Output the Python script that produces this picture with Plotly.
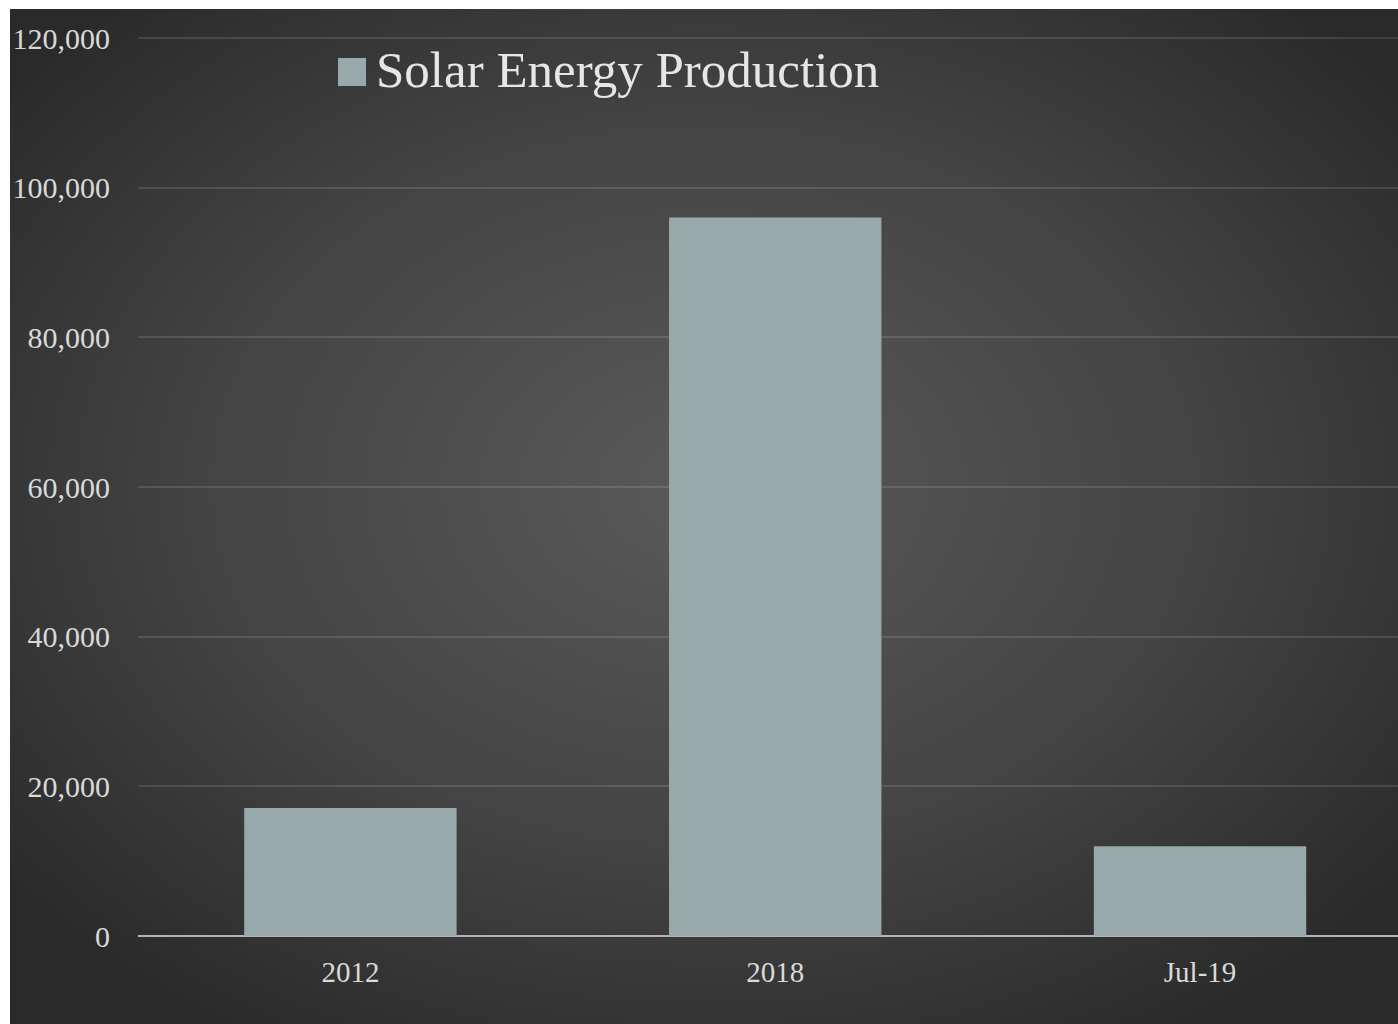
import base64
import plotly.graph_objects as go

# Solar energy production by period
categories = ["2012", "2018", "Jul-19"]
production = [17100, 96000, 12000]
y_ticks = [0, 20000, 40000, 60000, 80000, 100000, 120000]
y_tick_labels = ["0", "20,000", "40,000", "60,000", "80,000", "100,000", "120,000"]
series_name = "Solar Energy Production"

W, H = 1398, 1024
L, R, T, B = 138, 0, 36, 88
plot_w, plot_h = W - L - R, H - T - B
# a little headroom above the top tick so its gridline is drawn
y_max = 120000 * plot_h / (plot_h - 2)

FONT = "Liberation Serif, Times New Roman, serif"
BAR_COLOR = "#97a9aa"
TEXT_COLOR = "#d9d9d9"


def px_x(px):
    return (px - L) / plot_w


def px_y(py):
    return (H - B - py) / plot_h


# Dark radial backdrop for the chart card
svg = (
    '<svg xmlns="http://www.w3.org/2000/svg" width="1388" height="1015" '
    'viewBox="0 0 100 100" preserveAspectRatio="none">'
    '<defs><radialGradient id="g" cx="0.5" cy="0.47" r="0.64">'
    '<stop offset="0" stop-color="#5a5a5a"/>'
    '<stop offset="0.55" stop-color="#444444"/>'
    '<stop offset="1" stop-color="#2a2a2a"/>'
    '</radialGradient></defs>'
    '<rect width="100" height="100" fill="url(#g)"/></svg>'
)
bg_src = "data:image/svg+xml;base64," + base64.b64encode(svg.encode()).decode()

fig = go.Figure(
    go.Bar(
        x=categories,
        y=production,
        name=series_name,
        width=0.5,
        marker=dict(color=BAR_COLOR, line=dict(width=0)),
        showlegend=False,
    )
)

# card sits inside a thin white frame (10px left, 9px top)
card_x0, card_y0 = 10, 9
fig.add_layout_image(
    dict(
        source=bg_src,
        xref="paper", yref="paper",
        x=px_x(card_x0),
        y=px_y(card_y0),
        sizex=(W - card_x0) / plot_w,
        sizey=(H - card_y0) / plot_h,
        xanchor="left", yanchor="top",
        sizing="stretch",
        layer="below",
    )
)

# legend: swatch + series name
fig.add_shape(
    type="rect", xref="paper", yref="paper",
    x0=px_x(338), x1=px_x(366), y0=px_y(86), y1=px_y(58),
    fillcolor=BAR_COLOR, line=dict(width=0), layer="above",
)
fig.add_annotation(
    xref="paper", yref="paper",
    x=px_x(374), y=px_y(70),
    xanchor="left", yanchor="middle",
    showarrow=False,
    text=series_name,
    font=dict(family=FONT, size=51, color="#e6e6e6"),
)

fig.update_layout(
    width=W, height=H,
    margin=dict(l=L, r=R, t=T, b=B, pad=0),
    paper_bgcolor="white",
    plot_bgcolor="rgba(0,0,0,0)",
    font=dict(family=FONT, color=TEXT_COLOR),
    xaxis=dict(
        range=[-0.5, 2.466],
        showgrid=False,
        showline=False,
        zeroline=False,
        ticks="",
        tickfont=dict(family=FONT, size=29, color=TEXT_COLOR),
        ticklabelstandoff=16,
    ),
    yaxis=dict(
        range=[0, y_max],
        tickvals=y_ticks,
        ticktext=y_tick_labels,
        showgrid=True,
        gridcolor="rgba(255,255,255,0.12)",
        gridwidth=2,
        zeroline=True,
        zerolinecolor="#b4b4b4",
        zerolinewidth=2,
        showline=False,
        ticks="",
        tickfont=dict(family=FONT, size=30, color=TEXT_COLOR),
        ticklabelstandoff=27,
    ),
)

fig.write_html("out.html")
